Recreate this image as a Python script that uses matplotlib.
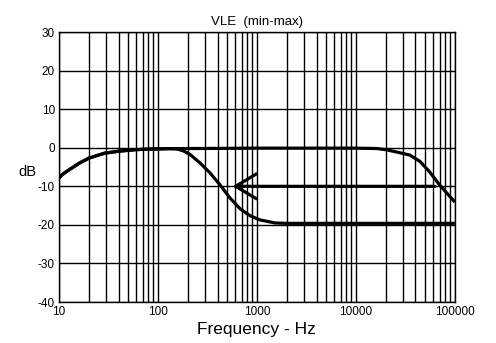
import matplotlib
matplotlib.use("Agg")
import matplotlib.pyplot as plt
import numpy as np

plt.rcParams['font.family'] = ['Liberation Sans', 'DejaVu Sans']
plt.rcParams['axes.unicode_minus'] = False

# Max response (filter fully open)
freq_max = [10, 10.6, 12, 13.4, 16, 20, 25, 29, 40, 59, 80, 100, 200, 500, 1000, 3000,
            10000, 16200, 20000, 23800, 29000, 35100, 44300, 55800, 70400, 88900, 100000]
db_max = [-7.9, -7.1, -6.1, -5.3, -4.0, -2.7, -1.9, -1.4, -0.9, -0.5, -0.35, -0.3, -0.2,
          -0.15, -0.1, -0.1, -0.1, -0.2, -0.5, -0.9, -1.4, -1.9, -3.5, -6.3, -9.7, -12.6, -14.1]

# Min response (filter at lowest setting)
freq_min = [10, 10.6, 12, 13.4, 16, 20, 25, 29, 40, 59, 80, 100, 130, 155, 180, 210, 265,
            335, 423, 533, 675, 850, 1070, 1520, 2000, 5000, 20000, 100000]
db_min = [-7.9, -7.1, -6.1, -5.3, -4.0, -2.7, -1.9, -1.4, -0.9, -0.5, -0.35, -0.3, -0.2,
          -0.3, -0.8, -1.7, -3.9, -6.5, -9.6, -13.0, -15.8, -17.6, -18.7, -19.5, -19.6,
          -19.6, -19.6, -19.6]

# Arrow showing the adjustment range
arrow_start = (63000, -10)
arrow_tip = (567, -10)

x_ticks = [10, 100, 1000, 10000, 100000]
x_tick_labels = ["10", "100", "1000", "10000", "100000"]
y_ticks = [-40, -30, -20, -10, 0, 10, 20, 30]

fig = plt.figure(figsize=(4.96, 3.43), dpi=100)
ax = fig.add_axes([0.119, 0.1195, 0.798, 0.787])

ax.set_xscale('log')
ax.set_xlim(10, 100000)
ax.set_ylim(-40, 30)

ax.set_xticks(x_ticks)
ax.set_xticklabels(x_tick_labels)
ax.set_yticks(y_ticks)
ax.xaxis.set_minor_locator(matplotlib.ticker.LogLocator(base=10, subs=np.arange(2, 10)))
ax.xaxis.set_minor_formatter(matplotlib.ticker.NullFormatter())

ax.grid(True, which='both', axis='x', color='black', linewidth=1.0)
ax.grid(True, which='major', axis='y', color='black', linewidth=1.0)
ax.tick_params(which='both', length=0, labelsize=8.5, pad=3)
for s in ax.spines.values():
    s.set_linewidth(1.0)
    s.set_color('black')

ax.plot(freq_max, db_max, color='black', linewidth=2.3, solid_capstyle='butt',
        solid_joinstyle='round', zorder=3)
ax.plot(freq_min, db_min, color='black', linewidth=2.3, solid_capstyle='butt',
        solid_joinstyle='round', zorder=3)

ax.annotate('', xy=arrow_tip, xytext=arrow_start,
            arrowprops=dict(arrowstyle='->,head_length=1.5,head_width=0.9',
                            color='black', linewidth=2.3, shrinkA=0, shrinkB=0),
            zorder=4)

ax.set_title("VLE  (min-max)", fontsize=9.5, pad=5)
ax.set_xlabel("Frequency - Hz", fontsize=12.5, labelpad=3)
ax.set_ylabel("dB", fontsize=10.5, rotation=0, labelpad=12)
ax.yaxis.set_label_coords(-0.08, 0.455)

fig.savefig("out.png", dpi=100, facecolor='white')
